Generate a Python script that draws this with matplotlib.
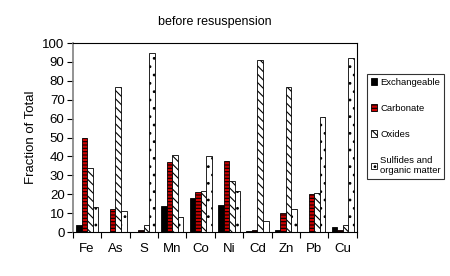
import matplotlib
matplotlib.use('Agg')
import matplotlib.pyplot as plt
import numpy as np

plt.rcParams['font.family'] = ['Liberation Sans', 'DejaVu Sans']
plt.rcParams['hatch.linewidth'] = 0.8

metals = ['Fe', 'As', 'S', 'Mn', 'Co', 'Ni', 'Cd', 'Zn', 'Pb', 'Cu']
exchangeable = [3.5, 0, 0, 14, 18, 14.5, 0.5, 1, 0, 2.5]
carbonate = [50, 12, 1, 37, 21, 37.5, 1, 10, 20, 1]
oxides = [34, 77, 4, 41, 22, 27, 91, 77, 20.5, 4]
sulfides = [13.5, 11, 95, 8, 40, 21.5, 6, 12, 61, 92]

series = [
    ('Exchangeable', exchangeable, 'black', None),
    ('Carbonate', carbonate, '#cc0000', '-----'),
    ('Oxides', oxides, 'white', '\\\\\\\\'),
    ('Sulfides and\norganic matter', sulfides, 'white', '..'),
]

fig = plt.figure(figsize=(4.5, 2.76), dpi=100)
ax = fig.add_axes([0.162, 0.159, 0.631, 0.685])

x = np.arange(len(metals))
w = 0.195
for i, (name, vals, col, hatch) in enumerate(series):
    ax.bar(x + (i - 1.5) * w, vals, w, color=col, edgecolor='black',
           linewidth=0.6, hatch=hatch, label=name)

ax.set_xlim(-0.5, len(metals) - 0.5)
ax.set_ylim(0, 100)
ax.set_yticks(np.arange(0, 101, 10))
ax.set_xticks(x)
ax.set_xticklabels(metals)
ax.set_xticks(np.arange(-0.5, len(metals)), minor=True)
ax.tick_params(axis='x', which='major', length=0, labelsize=9.5, pad=8)
ax.tick_params(axis='x', which='minor', length=4, width=0.8)
ax.tick_params(axis='y', labelsize=9.5, length=4, width=0.8, pad=2)
ax.set_ylabel('Fraction of Total', fontsize=9.5)
ax.set_title('before resuspension', fontsize=9, pad=13)

ax.spines['left'].set_color('#808080')
ax.spines['left'].set_linewidth(1.2)
for s in ['top', 'right', 'bottom']:
    ax.spines[s].set_color('black')
    ax.spines[s].set_linewidth(0.8)

leg = ax.legend(loc='upper left', bbox_to_anchor=(1.035, 0.835), fontsize=6.8,
                frameon=True, fancybox=False, edgecolor='black',
                handlelength=0.7, handleheight=0.7, handletextpad=0.3,
                labelspacing=1.8, borderpad=0.4, borderaxespad=0)
leg.get_frame().set_linewidth(0.8)

fig.savefig('out.png', dpi=100)
